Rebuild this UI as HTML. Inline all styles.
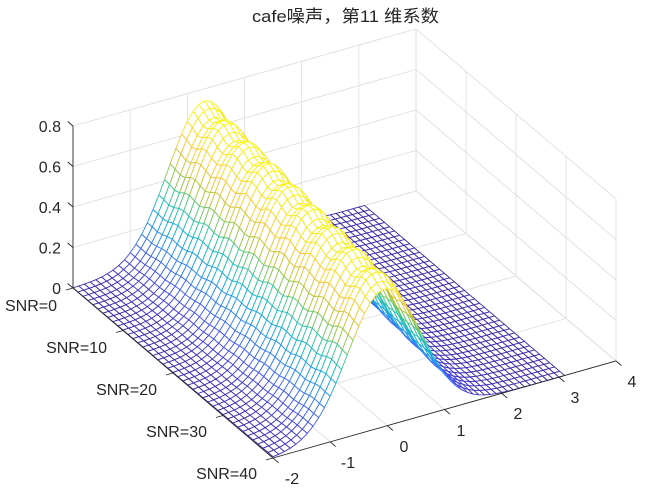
<!DOCTYPE html>
<html><head><meta charset="utf-8">
<style>html,body{margin:0;padding:0;background:#fff;}svg{display:block;}</style>
</head><body>
<svg id="s" width="649" height="492" viewBox="0 0 649 492" xmlns="http://www.w3.org/2000/svg" font-family="'Liberation Sans','Noto Sans CJK SC',sans-serif">
<rect width="649" height="492" fill="#fff"/>
<g id="grid" stroke="#dcdcdc" stroke-width="0.8" fill="none"></g>
<g id="surf" stroke-width="0.9" stroke-linejoin="round"></g>
<g id="axes" stroke="#262626" stroke-width="0.9" fill="none"></g>
<g id="labels" fill="#262626" font-size="16">
<text x="61" y="294" text-anchor="end">0</text>
<text x="61" y="253.5" text-anchor="end">0.2</text>
<text x="61" y="213" text-anchor="end">0.4</text>
<text x="61" y="172.5" text-anchor="end">0.6</text>
<text x="61" y="132" text-anchor="end">0.8</text>
<text x="57" y="311" text-anchor="end">SNR=0</text>
<text x="107" y="353" text-anchor="end">SNR=10</text>
<text x="157" y="395" text-anchor="end">SNR=20</text>
<text x="207" y="437" text-anchor="end">SNR=30</text>
<text x="257" y="479" text-anchor="end">SNR=40</text>
<text x="292" y="484" text-anchor="middle">-2</text>
<text x="348" y="468" text-anchor="middle">-1</text>
<text x="404" y="452" text-anchor="middle">0</text>
<text x="461" y="436" text-anchor="middle">1</text>
<text x="518" y="419" text-anchor="middle">2</text>
<text x="575" y="403" text-anchor="middle">3</text>
<text x="632" y="387" text-anchor="middle">4</text>
<text x="252" y="22" font-size="17" textLength="187" lengthAdjust="spacingAndGlyphs">cafe噪声，第11 维系数</text>
</g>
</svg>
<script>
(function(){
var NS="http://www.w3.org/2000/svg";
function P(x,s,z){return [73+57.17*(x+2)+5*s, 288-16.17*(x+2)+4.25*s-202.5*z];}
function line(g,a,b,attrs){var l=document.createElementNS(NS,"line");l.setAttribute("x1",a[0].toFixed(2));l.setAttribute("y1",a[1].toFixed(2));l.setAttribute("x2",b[0].toFixed(2));l.setAttribute("y2",b[1].toFixed(2));if(attrs)for(var k in attrs)l.setAttribute(k,attrs[k]);g.appendChild(l);}
var grid=document.getElementById("grid"),axes=document.getElementById("axes"),surf=document.getElementById("surf");
var zs=[0,0.2,0.4,0.6,0.8],xs=[-2,-1,0,1,2,3,4],ss=[0,10,20,30,40];
xs.forEach(function(x){line(grid,P(x,0,0),P(x,0,0.8));});
zs.forEach(function(z){line(grid,P(-2,0,z),P(4,0,z));});
ss.forEach(function(s){line(grid,P(4,s,0),P(4,s,0.8));});
zs.forEach(function(z){line(grid,P(4,0,z),P(4,40,z));});
xs.forEach(function(x){line(grid,P(x,0,0),P(x,40,0));});
ss.forEach(function(s){line(grid,P(-2,s,0),P(4,s,0));});
function Z(x,s){
  var mu=0.3-0.35*s/40, sg=0.64;
  var A=0.72+0.02*Math.cos(2*Math.PI*s/4.7)-0.02*s/40;
  var d=x-mu;
  return A*Math.exp(-d*d/(2*sg*sg));
}
var stops=[[0,.2422,.1504,.6603],[.125,.2810,.3228,.9579],[.25,.1786,.5289,.9682],[.375,.0689,.6948,.8394],[.5,.2161,.7843,.5923],[.625,.6720,.7793,.2227],[.75,.9970,.7659,.2199],[.875,.9600,.9000,.1400],[1,.9769,.9839,.0805]];
function col(t){t=Math.max(0,Math.min(1,t));for(var i=1;i<stops.length;i++){if(t<=stops[i][0]){var a=stops[i-1],b=stops[i],f=(t-a[0])/(b[0]-a[0]);return "rgb("+[1,2,3].map(function(k){return Math.round(255*(a[k]+(b[k]-a[k])*f));}).join(",")+")";}}return "rgb(249,251,21)";}
var X=[];for(var x=-2;x<=3.1001;x+=0.1)X.push(x);
var S=[];for(var s=0;s<=40;s++)S.push(s);
var zmax=0,V=[];
for(var j=0;j<S.length;j++){V[j]=[];for(var i=0;i<X.length;i++){var z=Z(X[i],S[j]);V[j][i]=z;if(z>zmax)zmax=z;}}
var q=[];
for(var j=0;j<S.length-1;j++)for(var i=0;i<X.length-1;i++){
  var xc=(X[i]+X[i+1])/2,sc=(S[j]+S[j+1])/2;
  q.push({j:j,i:i,k:-0.5*(xc+2)/6+0.866*sc/40});
}
q.sort(function(a,b){return a.k-b.k;});
var frag=document.createDocumentFragment();
q.forEach(function(o){
  var i=o.i,j=o.j;
  var pts=[P(X[i],S[j],V[j][i]),P(X[i+1],S[j],V[j][i+1]),P(X[i+1],S[j+1],V[j+1][i+1]),P(X[i],S[j+1],V[j+1][i])];
  var zc=(V[j][i]+V[j][i+1]+V[j+1][i+1]+V[j+1][i])/4;
  var p=document.createElementNS(NS,"polygon");
  p.setAttribute("points",pts.map(function(a){return a[0].toFixed(1)+","+a[1].toFixed(1);}).join(" "));
  p.setAttribute("fill","#fff");p.setAttribute("stroke",col(zc/zmax));
  frag.appendChild(p);
});
surf.appendChild(frag);
line(axes,P(-2,0,0),P(-2,0,0.8));
line(axes,P(-2,0,0),P(-2,40,0));
line(axes,P(-2,40,0),P(4,40,0));
zs.forEach(function(z){var a=P(-2,0,z);line(axes,a,[a[0]-5.3,a[1]-4.5]);});
ss.forEach(function(s){var a=P(-2,s,0);line(axes,a,[a[0]-7,a[1]+2]);});
xs.forEach(function(x){var a=P(x,40,0);line(axes,a,[a[0]+5.5,a[1]+4.7]);});
})();
</script>
</body></html>
